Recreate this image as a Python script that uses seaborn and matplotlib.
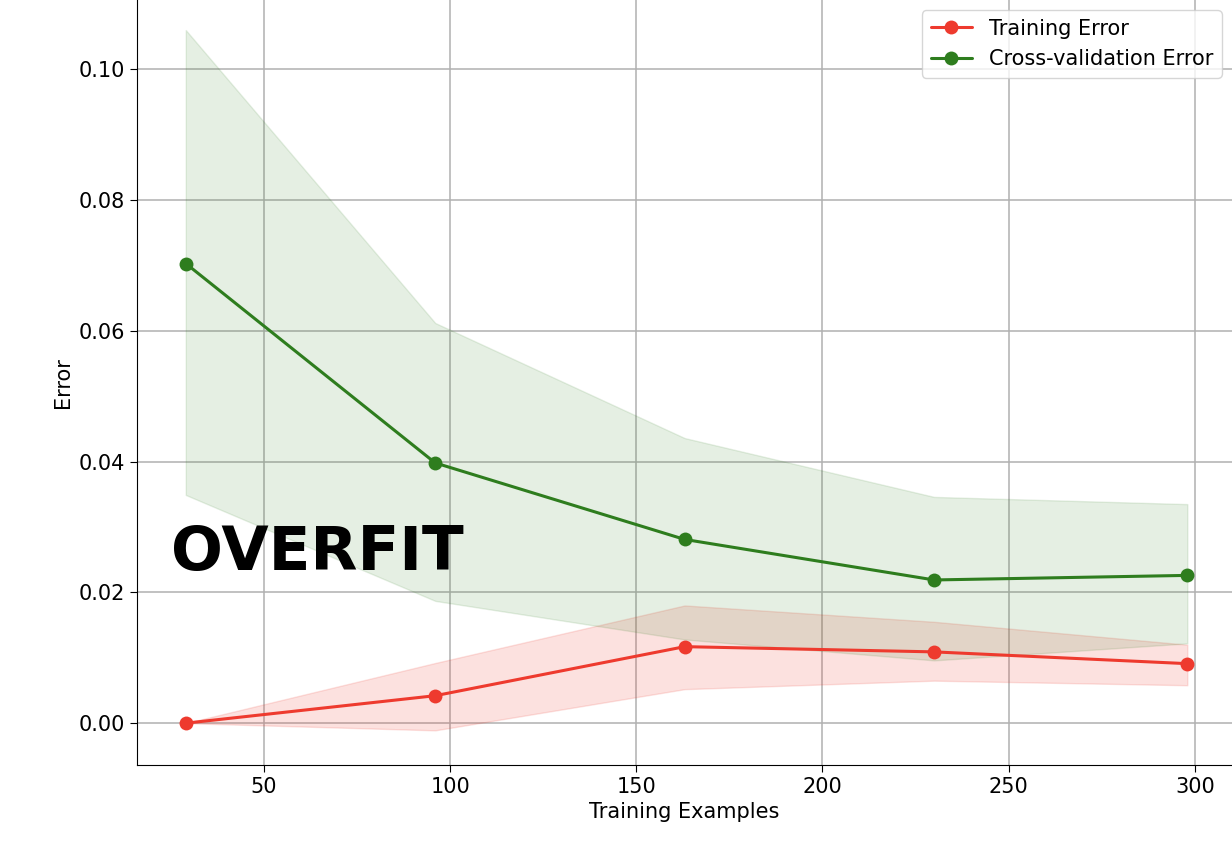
import numpy as np
import matplotlib
matplotlib.use("Agg")
import matplotlib.pyplot as plt
import seaborn as sns

# learning curve values
train_sizes = [29, 96, 163, 230, 298]
train_err = [0.0, 0.0042, 0.0117, 0.0109, 0.0091]
train_lo = [0.0, -0.0011, 0.0052, 0.0065, 0.0058]
train_hi = [0.0, 0.0092, 0.0180, 0.0155, 0.0120]
cv_err = [0.0703, 0.0398, 0.0281, 0.0219, 0.0226]
cv_lo = [0.0349, 0.0187, 0.0128, 0.0096, 0.0122]
cv_hi = [0.1060, 0.0612, 0.0436, 0.0346, 0.0335]

red = "#ee3a2e"
green = "#2e7d1e"

sns.set_style("ticks")
plt.rcParams["font.family"] = ["DejaVu Sans"]
plt.rcParams["text.color"] = "black"
plt.rcParams["axes.labelcolor"] = "black"
plt.rcParams["xtick.color"] = "black"
plt.rcParams["ytick.color"] = "black"
plt.rcParams["axes.edgecolor"] = "black"

fig = plt.figure(figsize=(12.32, 8.56), dpi=100)
ax = fig.add_axes([137 / 1232, 91 / 856, 1 - 137 / 1232, 1 - 91 / 856])

ax.fill_between(train_sizes, train_lo, train_hi, color=red, alpha=0.15, linewidth=1)
ax.fill_between(train_sizes, cv_lo, cv_hi, color=green, alpha=0.12, linewidth=1)
sns.lineplot(x=train_sizes, y=train_err, ax=ax, color=red, marker="o", markersize=10,
             markeredgewidth=0, linewidth=2.2, label="Training Error")
sns.lineplot(x=train_sizes, y=cv_err, ax=ax, color=green, marker="o", markersize=10,
             markeredgewidth=0, linewidth=2.2, label="Cross-validation Error")

ax.text(25, 0.026, "OVERFIT", fontsize=44, fontweight="bold", va="center", ha="left")

ax.set_xlim(15.9, 310)
ax.set_ylim(-0.0064, 0.1106)
ax.set_xticks([50, 100, 150, 200, 250, 300])
ax.set_yticks([0.0, 0.02, 0.04, 0.06, 0.08, 0.10])
ax.set_yticklabels(["0.00", "0.02", "0.04", "0.06", "0.08", "0.10"])
ax.grid(True, color="#b0b0b0", linewidth=1.1)
ax.tick_params(labelsize=15, length=5)
ax.set_xlabel("Training Examples", fontsize=15)
ax.set_ylabel("Error", fontsize=15)
sns.despine(ax=ax)
ax.legend(loc="upper right", fontsize=15, framealpha=0.8)

fig.savefig("out.png", dpi=100)
